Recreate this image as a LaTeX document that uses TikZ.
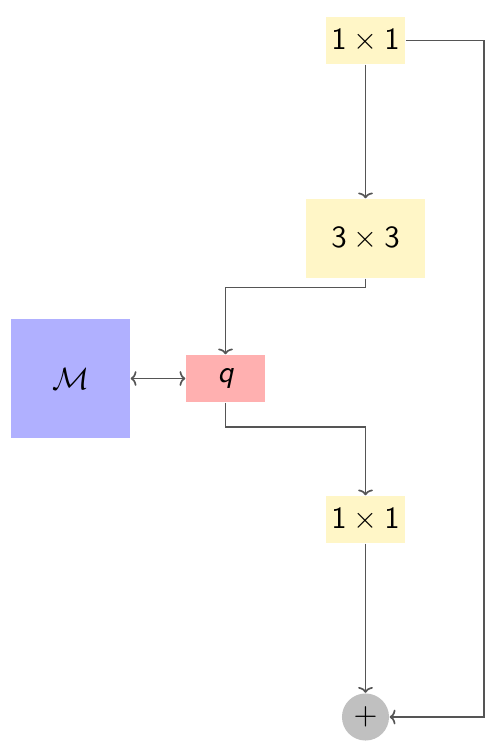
\documentclass[tikz,border=0pt]{standalone}
\usetikzlibrary{arrows.meta}
\definecolor{boxyellow}{RGB}{255,246,199}
\definecolor{boxred}{RGB}{255,176,176}
\definecolor{boxblue}{RGB}{176,176,255}
\definecolor{circgray}{RGB}{192,192,192}
\definecolor{linegray}{RGB}{85,85,85}
\begin{document}
\begin{tikzpicture}[x=0.325pt,y=-0.325pt,
  conv/.style={fill=boxyellow,draw=none,inner sep=0pt,minimum width=25.7pt,minimum height=15.3pt,font=\sffamily},
  bigconv/.style={conv,minimum width=38.7pt,minimum height=25.7pt},
  qbox/.style={fill=boxred,draw=none,inner sep=0pt,minimum width=25.7pt,minimum height=15.3pt,font=\sffamily\itshape},
  mbox/.style={fill=boxblue,draw=none,inner sep=0pt,minimum width=38.7pt,minimum height=38.7pt},
  sumnode/.style={circle,fill=circgray,draw=none,inner sep=0pt,minimum size=15.3pt},
  conn/.style={draw=linegray,line width=0.55pt,-{To[length=1.9pt,width=4.8pt]}},
  biconn/.style={draw=linegray,line width=0.55pt,{To[length=1.9pt,width=4.8pt]}-{To[length=1.9pt,width=4.8pt]}}]
\useasboundingbox (0,0) rectangle (503,749);
\node[conv] (t1) at (365.5,40.5) {1${}\times{}$1};
\node[bigconv] (t3) at (365.5,238.5) {3${}\times{}$3};
\node[qbox] (q) at (225.5,378.5) {q};
\node[mbox] (M) at (70.5,378.5) {$\mathcal{M}$};
\node[conv] (b1) at (365.5,519.5) {1${}\times{}$1};
\node[sumnode] (plus) at (365.5,717) {$+$};
\coordinate (r) at (484,0);
\draw[conn] (t1.south) -- (t3.north);
\draw[conn] (t3.south) -- ++(0,9) -| (q.north);
\draw[biconn] (M.east) -- (q.west);
\draw[conn] (q.south) -- ++(0,24) -| (b1.north);
\draw[conn] (b1.south) -- (plus.north);
\draw[conn] (t1.east) -- (t1.east -| r) -- (plus.east -| r) -- (plus.east);
\end{tikzpicture}
\end{document}
